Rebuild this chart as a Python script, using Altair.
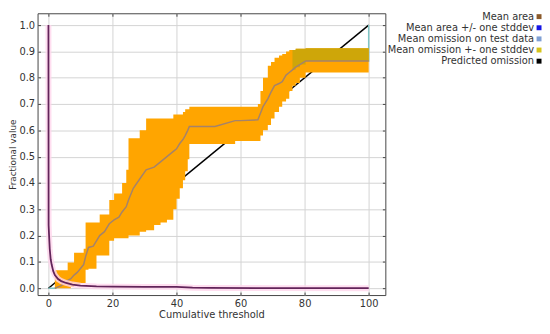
import altair as alt
import pandas as pd

# ---------------- data ----------------
# Mean omission on test data with +/- one stddev band (cumulative threshold t)
om_t = [2.0, 4.0, 5.0, 6.0, 7.0, 8.0, 9.0, 10.0, 11.0, 11.6, 12.5, 14.0, 15.0, 16.0,
        17.5, 19.0, 20.5, 22.0, 23.0, 24.3, 25.0, 26.5, 28.5, 30.5, 33.0, 35.0, 37.0,
        39.0, 40.0, 41.0, 42.0, 42.7, 43.5, 44.0, 52.0, 58.3, 60.0, 65.4, 66.2, 67.0,
        68.5, 69.5, 70.6, 72.0, 73.0, 74.2, 75.2, 76.2, 77.2, 78.5, 80.3, 100.0]
om_mean = [0.0, 0.01, 0.02, 0.03, 0.036, 0.05, 0.06, 0.075, 0.09, 0.12, 0.155, 0.16, 0.18, 0.20,
           0.215, 0.245, 0.26, 0.27, 0.29, 0.31, 0.335, 0.38, 0.415, 0.45, 0.46, 0.48, 0.50,
           0.52, 0.53, 0.55, 0.565, 0.58, 0.60, 0.615, 0.615, 0.637, 0.637, 0.64, 0.665, 0.69,
           0.72, 0.745, 0.77, 0.778, 0.785, 0.81, 0.82, 0.83, 0.84, 0.85, 0.864, 0.864]
om_hi = [0.068, 0.068, 0.068, 0.098, 0.098, 0.135, 0.135, 0.135, 0.15, 0.25, 0.25, 0.25, 0.25, 0.28,
         0.28, 0.335, 0.36, 0.36, 0.40, 0.45, 0.57, 0.57, 0.60, 0.645, 0.645, 0.645, 0.645,
         0.66, 0.66, 0.66, 0.67, 0.68, 0.68, 0.69, 0.69, 0.69, 0.69, 0.70, 0.75, 0.80,
         0.846, 0.86, 0.876, 0.885, 0.89, 0.90, 0.905, 0.905, 0.91, 0.91, 0.912, 0.912]
om_lo = [0.0, 0.0, 0.0, 0.0, 0.005, 0.01, 0.015, 0.02, 0.02, 0.07, 0.074, 0.074, 0.124, 0.124,
         0.124, 0.18, 0.19, 0.19, 0.19, 0.19, 0.20, 0.20, 0.215, 0.22, 0.24, 0.25, 0.26,
         0.30, 0.34, 0.38, 0.41, 0.445, 0.49, 0.548, 0.548, 0.56, 0.56, 0.56, 0.58, 0.60,
         0.62, 0.645, 0.67, 0.69, 0.71, 0.72, 0.75, 0.77, 0.78, 0.80, 0.82, 0.82]

# end points of the test-omission curve (threshold 0 and 100)
om_start = (0.0, 0.0)
om_end = (100.0, 1.0)

# Mean area (fraction of area predicted)
area_t = [0.0, 0.05, 0.2, 0.4, 0.7, 1.0, 1.5, 2.0, 3.0, 4.0, 5.5, 7.5, 10.0, 15.0, 20.0,
          30.0, 40.0, 45.0, 50.0, 70.0, 100.0]
area_v = [1.0, 0.24, 0.2, 0.15, 0.11, 0.09, 0.065, 0.05, 0.035, 0.027, 0.02, 0.014, 0.01,
          0.007, 0.006, 0.005, 0.005, 0.002, 0.001, 0.0005, 0.0]

# Predicted omission
pred_t = [0.0, 100.0]
pred_v = [0.0, 1.0]

legend_names = ["Mean area", "Mean area +/- one stddev", "Mean omission on test data",
                "Mean omission +- one stddev", "Predicted omission"]
legend_colors = ["#8b5a2b", "#1414e6", "#7f9fd4", "#d6c41c", "#000000"]

x_ticks = [0, 20, 40, 60, 80, 100]
y_ticks = [0.0, 0.1, 0.2, 0.3, 0.4, 0.5, 0.6, 0.7, 0.8, 0.9, 1.0]

# ---------------- tables ----------------
band = pd.DataFrame({"t": om_t, "mean": om_mean, "lo": om_lo, "hi": om_hi})
test_line = pd.DataFrame({"t": [om_start[0]] + om_t + [om_end[0]],
                          "v": [om_start[1]] + om_mean + [om_end[1]]})
area = pd.DataFrame({"t": area_t, "v": area_v})
pred = pd.DataFrame({"t": pred_t, "v": pred_v})
legend_df = pd.DataFrame({"name": legend_names})

FONT = "DejaVu Sans"
TXT = "#333333"
W, H = 353, 286
xs = alt.Scale(domain=[-3.4, 105.2], nice=False, zero=False)
ys = alt.Scale(domain=[-0.026, 1.045], nice=False, zero=False)

x_main = alt.Axis(orient="bottom", values=x_ticks, format="d", grid=True, gridColor="#d3d3d3",
                  ticks=False, domain=False, labelFontSize=10, labelColor=TXT, labelFont=FONT,
                  labelPadding=4, title="Cumulative threshold", titleFont=FONT, titleFontSize=10,
                  titleFontWeight="normal", titleColor=TXT, titlePadding=1)
y_main = alt.Axis(orient="left", values=y_ticks, format=".1f", grid=True, gridColor="#d3d3d3",
                  ticks=False, domain=False, labelFontSize=10, labelColor=TXT, labelFont=FONT,
                  labelPadding=3, title="Fractional value", titleFont=FONT, titleFontSize=9,
                  titleFontWeight="normal", titleColor=TXT, titlePadding=1)


def tick_axis(orient, vals):
    return alt.Axis(orient=orient, values=vals, offset=-3, tickSize=3, tickColor="#444444",
                    labels=False, domain=False, grid=False, title=None)


X = lambda f="t:Q": alt.X(f, scale=xs, axis=None)
Y = lambda f: alt.Y(f, scale=ys, axis=None)

pred_layer = alt.Chart(pred).mark_line(color="black", strokeWidth=1.5).encode(
    x=alt.X("t:Q", scale=xs, axis=x_main),
    y=alt.Y("v:Q", scale=ys, axis=y_main),
)

teal_layer = alt.Chart(test_line).mark_line(color="#7fc4c4", strokeWidth=1.5).encode(
    x=alt.X("t:Q", scale=xs, axis=tick_axis("top", x_ticks)),
    y=alt.Y("v:Q", scale=ys, axis=tick_axis("right", y_ticks)),
)

band_layer = alt.Chart(band).mark_area(color="#ffa500", interpolate="step-after").encode(
    x=alt.X("t:Q", scale=xs, axis=tick_axis("bottom", x_ticks)),
    y=alt.Y("lo:Q", scale=ys, axis=tick_axis("left", y_ticks)),
    y2="hi:Q",
)

olive_layer = alt.Chart(band).transform_filter("datum.t >= 76").mark_area(
    color="#c9a60a", opacity=0.9, interpolate="step-after").encode(
    x=X(), y=Y("mean:Q"), y2="hi:Q",
)

mean_layer = alt.Chart(band).mark_line(color="#a5836a", strokeWidth=1.5).encode(
    x=X(), y=Y("mean:Q"),
)

halo_layer = alt.Chart(area).mark_line(color="#ffd6ec", strokeWidth=6, opacity=0.8).encode(
    x=X(), y=Y("v:Q"),
)
area_layer = alt.Chart(area).mark_line(color="#62245a", strokeWidth=1.8).encode(
    x=X(), y=Y("v:Q"),
)

plot = alt.layer(
    pred_layer, teal_layer, band_layer, olive_layer, mean_layer, halo_layer, area_layer
).resolve_axis(x="independent", y="independent").properties(
    width=W, height=H, view=alt.ViewBackground(stroke="#444444", strokeWidth=1)
)

ly = alt.Y("name:N", sort=legend_names, axis=None, scale=alt.Scale(type="point", padding=0.3))
leg_text = alt.Chart(legend_df).mark_text(
    align="right", baseline="middle", font=FONT, fontSize=10, color=TXT
).encode(y=ly, x=alt.value(141), text="name:N")
leg_sq = alt.Chart(legend_df).mark_square(size=25, opacity=1).encode(
    y=ly, x=alt.value(146),
    color=alt.Color("name:N", scale=alt.Scale(domain=legend_names, range=legend_colors), legend=None),
)
legend = alt.layer(leg_text, leg_sq).properties(
    width=148, height=52, view=alt.ViewBackground(stroke="transparent")
)

chart = alt.hconcat(plot, legend, spacing=0).properties(
    padding=0, background="white"
).configure(padding=0)

chart.save("out.html", embed_options={"renderer": "svg", "actions": False})
